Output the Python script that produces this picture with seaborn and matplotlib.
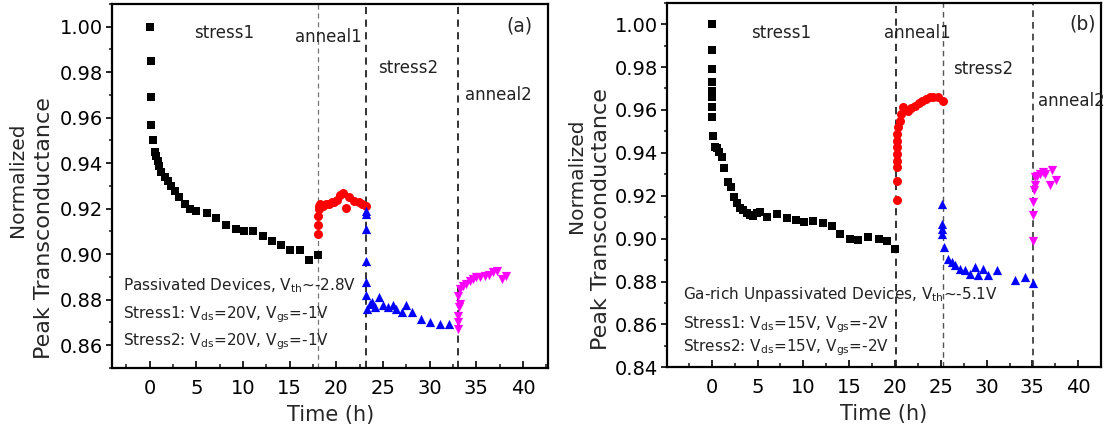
import matplotlib
matplotlib.use("Agg")
import matplotlib.pyplot as plt
from matplotlib.ticker import MultipleLocator, FormatStrFormatter
import seaborn as sns

# ---------------- (a) passivated devices ----------------
a_stress1_t = [0.0, 0.1, 0.1, 0.2, 0.4, 0.55, 0.7, 0.9, 1.05, 1.25, 1.6, 1.95, 2.3, 2.7,
               3.2, 3.75, 4.3, 5.0, 6.1, 7.1, 8.2, 9.2, 10.1, 11.1, 12.1, 13.1, 14.1,
               15.0, 16.1, 17.1, 18.0]
a_stress1_g = [1.000, 0.985, 0.969, 0.957, 0.950, 0.945, 0.943, 0.941, 0.939, 0.936,
               0.934, 0.932, 0.930, 0.928, 0.925, 0.922, 0.920, 0.919, 0.918, 0.916,
               0.913, 0.911, 0.910, 0.910, 0.908, 0.906, 0.904, 0.902, 0.902, 0.8975,
               0.8995]

a_anneal1_t = [18.0, 18.05, 18.05, 18.1, 18.15, 18.3, 18.6, 18.9, 19.2, 19.5, 19.8,
               20.1, 20.4, 20.7, 21.05, 21.4, 21.9, 22.4, 22.8, 23.2]
a_anneal1_g = [0.909, 0.913, 0.917, 0.920, 0.921, 0.922, 0.921, 0.922, 0.922, 0.923,
               0.923, 0.924, 0.926, 0.927, 0.9205, 0.925, 0.9235, 0.923, 0.922, 0.921]

a_stress2_t = [23.2, 23.2, 23.2, 23.2, 23.2, 23.2, 23.3, 23.6, 23.8, 24.1, 24.6, 25.0,
               25.5, 26.1, 26.4, 27.0, 27.5, 28.1, 29.1, 30.0, 31.1, 32.1]
a_stress2_g = [0.919, 0.9175, 0.911, 0.897, 0.888, 0.882, 0.876, 0.878, 0.879, 0.877,
               0.881, 0.8775, 0.877, 0.8775, 0.876, 0.8745, 0.8775, 0.8745, 0.8715,
               0.870, 0.8695, 0.8695]

a_anneal2_t = [33.0, 33.0, 33.0, 33.1, 33.2, 33.0, 33.2, 33.6, 33.9, 34.3, 34.6, 35.0,
               35.4, 35.9, 36.3, 36.8, 37.2, 37.7, 38.2]
a_anneal2_g = [0.867, 0.870, 0.873, 0.8768, 0.878, 0.8818, 0.8848, 0.886, 0.887,
               0.8884, 0.889, 0.8899, 0.8899, 0.8903, 0.8909, 0.8921, 0.8928, 0.8891,
               0.8903]

# ---------------- (b) Ga-rich unpassivated devices ----------------
b_stress1_t = [0.0, 0.07, 0.07, 0.07, 0.07, 0.07, 0.07, 0.07, 0.18, 0.36, 0.55, 0.83,
               1.09, 1.3, 1.75, 2.1, 2.4, 2.8, 3.1, 3.45, 3.85, 4.2, 4.55, 4.9, 5.25,
               6.0, 7.1, 8.2, 9.2, 10.1, 11.1, 12.1, 13.1, 14.0, 15.1, 16.0, 17.1, 18.2,
               19.1, 20.0]
b_stress1_g = [1.000, 0.988, 0.979, 0.973, 0.9687, 0.9659, 0.9615, 0.9566, 0.948, 0.9426,
               0.9423, 0.9403, 0.938, 0.933, 0.9265, 0.924, 0.9195, 0.9165, 0.9145,
               0.9135, 0.912, 0.911, 0.9105, 0.912, 0.9124, 0.910, 0.9116, 0.9095,
               0.9087, 0.9077, 0.908, 0.9075, 0.9057, 0.9023, 0.8998, 0.8992, 0.9007,
               0.900, 0.899, 0.8953]

b_anneal1_t = [20.2, 20.2, 20.2, 20.2, 20.2, 20.2, 20.25, 20.25, 20.3, 20.5, 20.7, 20.9,
               21.45, 21.8, 22.2, 22.6, 23.0, 23.4, 23.8, 24.2, 24.7, 25.2]
b_anneal1_g = [0.918, 0.927, 0.9336, 0.9364, 0.9395, 0.9426, 0.9457, 0.9488, 0.952,
               0.955, 0.9581, 0.9612, 0.9597, 0.961, 0.962, 0.963, 0.9643, 0.9652,
               0.966, 0.9662, 0.9659, 0.9643]

b_stress2_t = [25.1, 25.1, 25.1, 25.1, 25.3, 25.8, 26.2, 26.6, 27.1, 27.6, 28.2, 28.7,
               29.1, 29.6, 30.2, 31.1, 33.1, 34.2, 35.1]
b_stress2_g = [0.9163, 0.907, 0.9047, 0.9023, 0.8961, 0.8907, 0.8891, 0.8876, 0.886,
               0.8853, 0.8837, 0.8868, 0.8829, 0.886, 0.8829, 0.8853, 0.8806, 0.8821,
               0.8791]

b_anneal2_t = [35.1, 35.1, 35.1, 35.2, 35.3, 35.3, 35.5, 35.8, 36.1, 36.4, 36.9, 37.1,
               37.6]
b_anneal2_g = [0.899, 0.911, 0.917, 0.9225, 0.925, 0.9287, 0.9294, 0.9302, 0.931,
               0.9302, 0.9248, 0.9318, 0.9271]

PHASE_STYLE = [("s", "black", 32), ("o", "#ff0000", 42),
               ("^", "#0000ff", 44), ("v", "#ff00ff", 44)]

sns.set_style("ticks")
plt.rcParams["font.family"] = ["DejaVu Sans"]
plt.rcParams["mathtext.default"] = "regular"

fig = plt.figure(figsize=(11.05, 4.34), dpi=100)
ax_a = fig.add_axes([0.1016, 0.1521, 0.3946, 0.8387])
ax_b = fig.add_axes([0.6039, 0.1537, 0.3922, 0.8401])


def draw_panel(ax, phases, boundaries, xlim, ylim):
    for (t, g), (mk, col, size) in zip(phases, PHASE_STYLE):
        sns.scatterplot(x=t, y=g, marker=mk, color=col, s=size, linewidth=0,
                        ax=ax, zorder=3, legend=False)
    for xb, col, lw in boundaries:
        ax.axvline(xb, color=col, lw=lw, ls=(0, (4, 3)), zorder=2)
    ax.set_xlim(*xlim)
    ax.set_ylim(*ylim)
    ax.xaxis.set_major_locator(MultipleLocator(5))
    ax.xaxis.set_minor_locator(MultipleLocator(2.5))
    ax.yaxis.set_major_locator(MultipleLocator(0.02))
    ax.yaxis.set_minor_locator(MultipleLocator(0.01))
    ax.yaxis.set_major_formatter(FormatStrFormatter("%.2f"))
    ax.tick_params(axis="x", which="major", direction="in", length=5, width=1.2,
                   pad=8, labelsize=14, colors="black")
    ax.tick_params(axis="x", which="minor", direction="in", length=3, width=1.2)
    ax.tick_params(axis="y", which="major", direction="out", length=4, width=1.2,
                   pad=2.5, labelsize=14, colors="black")
    ax.tick_params(axis="y", which="minor", direction="out", length=2.5, width=1.2)
    for sp in ax.spines.values():
        sp.set_visible(True)
        sp.set_linewidth(1.6)
        sp.set_color("black")
    ax.set_xlabel("Time (h)", fontsize=15, labelpad=5)
    ax.set_ylabel("")


draw_panel(ax_a,
           [(a_stress1_t, a_stress1_g), (a_anneal1_t, a_anneal1_g),
            (a_stress2_t, a_stress2_g), (a_anneal2_t, a_anneal2_g)],
           [(18.0, "#777777", 0.9), (23.2, "#222222", 1.3), (33.0, "#222222", 1.3)],
           (-4.0, 42.7), (0.85, 1.01))
draw_panel(ax_b,
           [(b_stress1_t, b_stress1_g), (b_anneal1_t, b_anneal1_g),
            (b_stress2_t, b_stress2_g), (b_anneal2_t, b_anneal2_g)],
           [(20.1, "#222222", 1.3), (25.2, "#555555", 1.0), (35.1, "#333333", 1.2)],
           (-4.85, 42.45), (0.84, 1.01))

# phase names
lab = dict(fontsize=12, ha="center", va="center", color="#222222")
ax_a.text(8.0, 0.9972, "stress1", **lab)
ax_a.text(19.1, 0.9956, "anneal1", **lab)
ax_a.text(27.7, 0.9818, "stress2", **lab)
ax_a.text(37.3, 0.9700, "anneal2", **lab)
ax_a.text(39.6, 1.0005, "(a)", fontsize=13.5, ha="center", va="center")

ax_b.text(7.6, 0.9958, "stress1", **lab)
ax_b.text(22.4, 0.9961, "anneal1", **lab)
ax_b.text(29.6, 0.9790, "stress2", **lab)
ax_b.text(35.6, 0.9643, "anneal2", fontsize=12, ha="left", va="center",
          color="#222222")
ax_b.text(40.5, 1.0000, "(b)", fontsize=13.5, ha="center", va="center")

# stress conditions
cond = dict(fontsize=11, ha="left", va="baseline", color="#222222")
ax_a.text(-2.86, 0.8841, r"Passivated Devices, V$_{th}$~-2.8V", **cond)
ax_a.text(-2.86, 0.8717, r"Stress1: V$_{ds}$=20V, V$_{gs}$=-1V", **cond)
ax_a.text(-2.86, 0.8600, r"Stress2: V$_{ds}$=20V, V$_{gs}$=-1V", **cond)

ax_b.text(-3.1, 0.8720, r"Ga-rich Unpassivated Devices, V$_{th}$~-5.1V", **cond)
ax_b.text(-3.1, 0.8583, r"Stress1: V$_{ds}$=15V, V$_{gs}$=-2V", **cond)
ax_b.text(-3.1, 0.8474, r"Stress2: V$_{ds}$=15V, V$_{gs}$=-2V", **cond)

# two-line y axis titles
W, H = 1105.0, 434.0
for (x1, y1, x2, y2) in [(18, 180, 44, 228), (576, 176, 601, 219)]:
    fig.text(x1 / W, 1 - y1 / H, "Normalized", rotation=90, fontsize=14.5,
             ha="center", va="center")
    fig.text(x2 / W, 1 - y2 / H, "Peak Transconductance", rotation=90,
             fontsize=16, ha="center", va="center")

fig.savefig("out.png", dpi=100, facecolor="white")
